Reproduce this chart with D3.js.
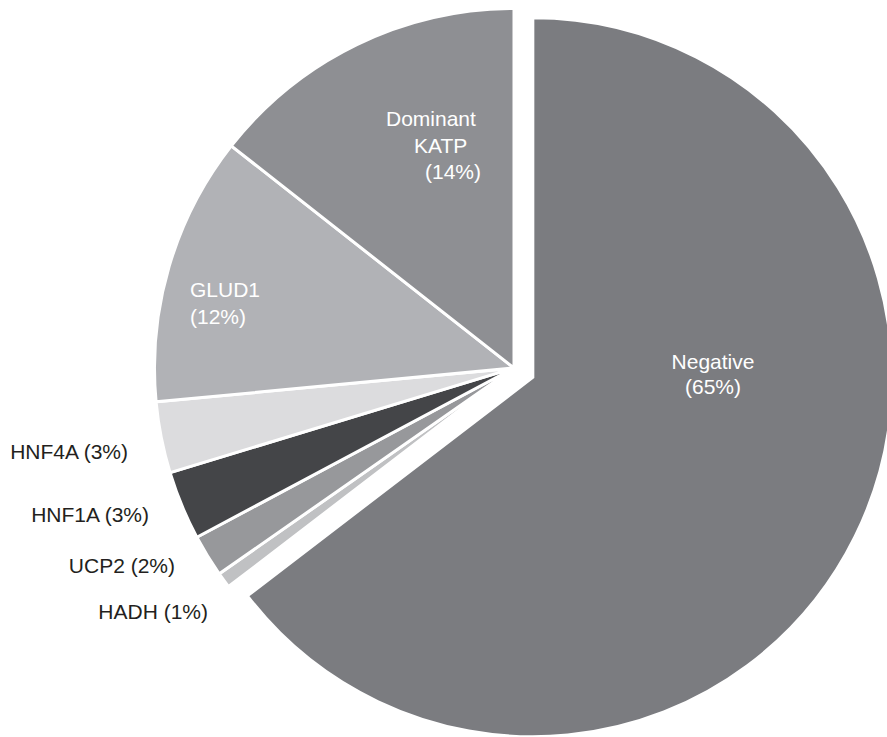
<!DOCTYPE html>
<html>
<head>
<meta charset="utf-8">
<script src="https://cdn.jsdelivr.net/npm/d3@7"></script>
<style>
  html, body { margin: 0; padding: 0; background: #ffffff; }
  svg { display: block; }
  text { font-family: "Liberation Sans", Arial, Helvetica, sans-serif; }
</style>
</head>
<body>
<svg id="chart" width="887" height="737"></svg>
<script>
// ---- data ----
const categories = ["Negative", "HADH", "UCP2", "HNF1A", "HNF4A", "GLUD1", "Dominant KATP"];
// slice sizes (labels show rounded percentages)
const values     = [64.6, 0.7, 1.9, 3.1, 3.2, 12.1, 14.4];
const labelLines = [
  ["Negative", "(65%)"],
  ["HADH (1%)"],
  ["UCP2 (2%)"],
  ["HNF1A (3%)"],
  ["HNF4A (3%)"],
  ["GLUD1", "(12%)"],
  ["Dominant", "KATP", "(14%)"]
];
const exploded = ["Negative"];

// ---- style / layout ----
const colors = ["#7b7c80", "#c0c1c3", "#97989b", "#444548", "#dcdcde", "#b1b2b6", "#8e8f93"];
const cx = 514, cy = 368, R = 359.5, explodeDist = 21;
const fontSize = 21;
// label placement relative to pie centre
const labelLayout = [
  {anchor: "middle", xs: [199, 199],        ys: [1, 26],            fill: "#ffffff"},
  {anchor: "end",    xs: [-306],            ys: [251],              fill: "#231f20"},
  {anchor: "end",    xs: [-339],            ys: [205],              fill: "#231f20"},
  {anchor: "end",    xs: [-365],            ys: [154],              fill: "#231f20"},
  {anchor: "end",    xs: [-386],            ys: [91],               fill: "#231f20"},
  {anchor: "start",  xs: [-324, -324],      ys: [-71, -44],         fill: "#ffffff"},
  {anchor: "start",  xs: [-128, -100, -89], ys: [-242, -215, -189], fill: "#ffffff"}
];

const svg = d3.select("#chart");
const g = svg.append("g").attr("transform", `translate(${cx},${cy})`);

const data = categories.map((c, i) => ({name: c, value: values[i], i}));
const pie = d3.pie().sort(null).value(d => d.value).startAngle(0).endAngle(2 * Math.PI);
const arc = d3.arc().innerRadius(0).outerRadius(R);
const arcs = pie(data);

g.selectAll("path.slice")
  .data(arcs)
  .join("path")
  .attr("class", "slice")
  .attr("d", arc)
  .attr("fill", d => colors[d.data.i])
  .attr("stroke", "#ffffff")
  .attr("stroke-width", 3)
  .attr("stroke-linejoin", "miter")
  .attr("transform", d => {
    if (!exploded.includes(d.data.name)) return null;
    const mid = (d.startAngle + d.endAngle) / 2;
    return `translate(${explodeDist * Math.sin(mid)},${-explodeDist * Math.cos(mid)})`;
  });

// labels
arcs.forEach(d => {
  const lay = labelLayout[d.data.i];
  const lines = labelLines[d.data.i];
  const t = g.append("text")
    .attr("text-anchor", lay.anchor)
    .attr("fill", lay.fill)
    .attr("font-size", fontSize);
  lines.forEach((ln, k) => {
    t.append("tspan").attr("x", lay.xs[k]).attr("y", lay.ys[k]).text(ln);
  });
});
</script>
</body>
</html>
